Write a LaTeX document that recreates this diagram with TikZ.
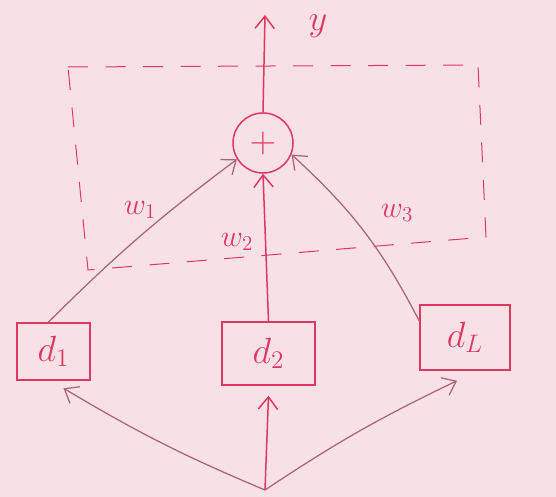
\documentclass[tikz,border=0pt]{standalone}
\usetikzlibrary{arrows.meta}
\definecolor{paper}{RGB}{248,225,230}
\definecolor{ink}{RGB}{222,56,96}
\definecolor{pencil}{RGB}{170,100,115}

\begin{document}
\begin{tikzpicture}[>={Straight Barb[length=7pt,width=11pt]},
	inkline/.style={color=ink,line width=0.3mm},
	dbox/.style={draw=ink,line width=0.3mm,inner sep=0pt,text=ink,font=\huge},
	wlabel/.style={text=ink,font=\LARGE}]
		% paper
		\fill[paper] (0,0) rectangle (11.12,9.94);
		% dashed block
		\draw[inkline,line width=0.2mm,dash pattern=on 4mm off 3.5mm] (1.36,8.60) -- (9.56,8.64) -- (9.72,5.20) -- (1.76,4.54) -- cycle;
		% summing node and output
		\node[draw=ink,line width=0.3mm,circle,minimum size=1.2cm,text=ink,font=\huge] (sum) at (5.26,7.08) {$+$};
		\coordinate (out) at (5.30,9.64);
		\draw[inkline,->] (sum.north) -- (out);
		\node[text=ink,font=\huge,inner sep=1pt] (ylab) at (6.36,9.42) {$y$};
		% inputs
		\node[dbox,minimum width=1.46cm,minimum height=1.14cm] (d1) at (1.07,2.91) {$d_1$};
		\node[dbox,minimum width=1.86cm,minimum height=1.26cm] (d2) at (5.37,2.87) {$d_2$};
		\node[dbox,minimum width=1.80cm,minimum height=1.30cm] (dL) at (9.30,3.19) {$d_L$};
		% weighted links
		\draw[pencil,line width=0.25mm,->] (d1.100) to[bend left=4] (sum.212);
		\draw[inkline,->] (d2.north) -- (sum.south);
		\draw[pencil,line width=0.25mm,->] (dL.160) to[bend right=10] (sum.-22);
		\node[wlabel] (w1) at (2.80,5.74) {$w_1$};
		\node[wlabel] (w2) at (4.74,5.10) {$w_2$};
		\node[wlabel] (w3) at (7.94,5.68) {$w_3$};
		% common source
		\coordinate (src) at (5.30,0.14);
		\draw[pencil,line width=0.25mm,->] (src) to[bend left=4] ([xshift=2mm,yshift=-1.5mm]d1.south);
		\draw[inkline,->] (src) -- ([yshift=-2mm]d2.south);
		\draw[pencil,line width=0.25mm,->] (src) to[bend left=4] ([xshift=-1.6mm,yshift=-2mm]dL.south);
\end{tikzpicture}
\end{document}
